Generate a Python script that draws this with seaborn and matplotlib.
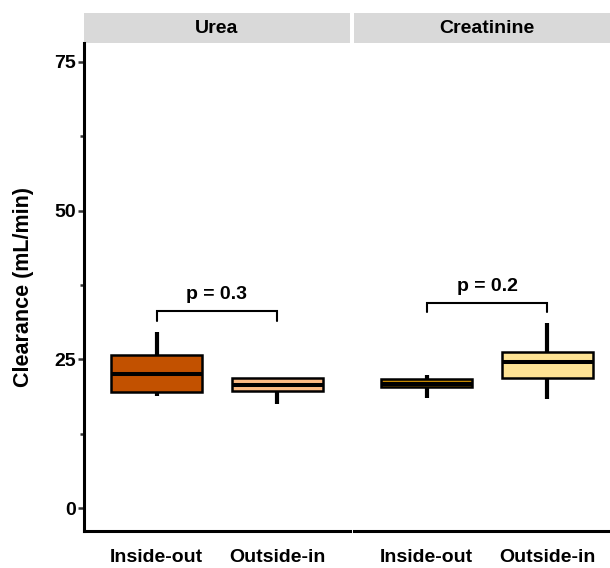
import numpy as np
import pandas as pd
import matplotlib
matplotlib.use('Agg')
import matplotlib.pyplot as plt
import seaborn as sns
from matplotlib.patches import Rectangle

# five-number summaries (min, q1, median, q3, max)
methods = ['Inside-out', 'Outside-in']
urea_inside_out = [18.9, 19.5, 22.6, 25.7, 29.6]
urea_outside_in = [17.5, 19.7, 20.7, 21.9, 21.9]
creat_inside_out = [18.6, 20.3, 20.9, 21.8, 22.4]
creat_outside_in = [18.3, 21.9, 24.5, 26.3, 31.1]

panels = ['Urea', 'Creatinine']
p_values = ['p = 0.3', 'p = 0.2']
bracket_y = [33.1, 34.5]
colors = {'Urea': ['#C25100', '#FDBB84'], 'Creatinine': ['#C98B00', '#FEE394']}

rows = []
for m, vals in zip(methods, [urea_inside_out, urea_outside_in]):
    for v in vals:
        rows.append(('Urea', m, v))
for m, vals in zip(methods, [creat_inside_out, creat_outside_in]):
    for v in vals:
        rows.append(('Creatinine', m, v))
df = pd.DataFrame(rows, columns=['Solute', 'Method', 'Clearance'])

sns.set_theme(style='white')
plt.rcParams['font.family'] = ['Liberation Sans', 'DejaVu Sans']
plt.rcParams['font.weight'] = 'bold'
plt.rcParams['text.color'] = 'black'
plt.rcParams['xtick.color'] = 'black'
plt.rcParams['ytick.color'] = 'black'
plt.rcParams['axes.labelcolor'] = 'black'

fig = plt.figure(figsize=(6.1, 5.68), dpi=100)
W, H = 610, 568
bottom = 1 - 530.7 / H
height = 487.4 / H
ax1 = fig.add_axes([84 / W, bottom, 266 / W, height])
ax2 = fig.add_axes([354 / W, bottom, 266 / W, height])

for ax, solute, ptxt, by in zip([ax1, ax2], panels, p_values, bracket_y):
    sub = df[df['Solute'] == solute]
    sns.boxplot(data=sub, x='Method', y='Clearance', hue='Method', order=methods,
                palette=colors[solute], saturation=1, legend=False, ax=ax, width=0.76,
                linecolor='black', linewidth=1.8, showcaps=False, fliersize=0,
                whiskerprops=dict(linewidth=3.0), medianprops=dict(linewidth=2.9))
    ax.set_xlim(-0.6, 1.6)
    ax.set_ylim(-3.76, 78.1)
    ax.set_xlabel('')
    ax.set_ylabel('')
    for s in ['top', 'right']:
        ax.spines[s].set_visible(False)
    ax.spines['bottom'].set_linewidth(2.2)
    ax.spines['bottom'].set_color('black')
    ax.tick_params(axis='x', length=5, width=1.8, color='#333333', labelsize=14, pad=8)
    for lab in ax.get_xticklabels():
        lab.set_fontweight('bold')
    # significance bracket
    ax.plot([0, 0, 1, 1], [by - 1.6, by, by, by - 1.6], color='black', lw=1.5,
            solid_joinstyle='miter')
    ax.text(0.5, by + 1.4, ptxt, ha='center', va='bottom', fontsize=14, fontweight='bold')
    # strip header
    ax.add_patch(Rectangle((0, 1.0), 1, 30 / 487.4, transform=ax.transAxes,
                           facecolor='#D9D9D9', edgecolor='none', clip_on=False))
    ax.text(0.5, 1.0 + 15 / 487.4, solute, transform=ax.transAxes, ha='center',
            va='center', fontsize=14, fontweight='bold')

ax1.set_yticks([0, 25, 50, 75])
ax1.set_yticks([12.5, 37.5, 62.5], minor=True)
ax1.spines['left'].set_linewidth(2.2)
ax1.spines['left'].set_color('black')
ax1.tick_params(axis='y', which='major', length=4, width=1.8, color='#333333', labelsize=14, left=True, pad=2)
ax1.tick_params(axis='y', which='minor', length=3, width=1.8, color='#333333', left=True)
for lab in ax1.get_yticklabels():
    lab.set_fontweight('bold')
ax1.set_ylabel('Clearance (mL/min)', fontsize=15.5, fontweight='bold', labelpad=14)

ax2.spines['left'].set_visible(False)
ax2.set_yticks([])

fig.savefig('out.png', dpi=100)
